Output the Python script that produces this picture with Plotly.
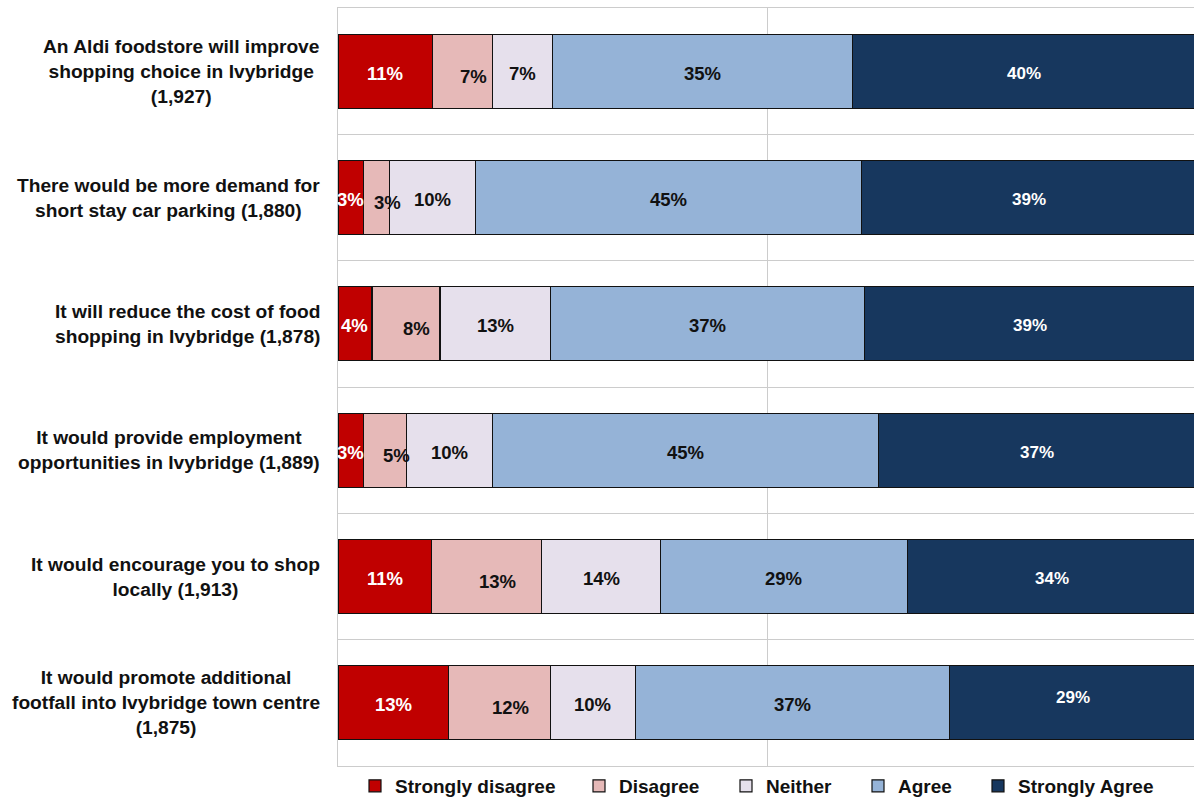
import plotly.graph_objects as go

# Survey statements (top to bottom) with response counts
statements = [
    "An Aldi foodstore will improve<br>shopping choice in Ivybridge<br>(1,927)",
    "There would be more demand for<br>short stay car parking (1,880)",
    "It will reduce the cost of food<br>shopping in Ivybridge (1,878)",
    "It would provide employment<br>opportunities in Ivybridge (1,889)",
    "It would encourage you to shop<br>locally (1,913)",
    "It would promote additional<br>footfall into Ivybridge town centre<br>(1,875)",
]

response_levels = ["Strongly disagree", "Disagree", "Neither", "Agree", "Strongly Agree"]

# Percentage of respondents per level (rounded, as labelled)
strongly_disagree = [11, 3, 4, 3, 11, 13]
disagree = [7, 3, 8, 5, 13, 12]
neither = [7, 10, 13, 10, 14, 10]
agree = [35, 45, 37, 45, 29, 37]
strongly_agree = [40, 39, 39, 37, 34, 29]

series = [strongly_disagree, disagree, neither, agree, strongly_agree]
fills = ["#C00000", "#E6B9B8", "#E6E0EC", "#95B3D7", "#17375E"]
label_colors = ["white", "#111111", "#111111", "#111111", "white"]

FONT = "Liberation Sans, Arial, sans-serif"
W, H = 1194, 798
M_L, M_R, M_T, M_B = 338, 0, 8, 32
plot_w = W - M_L - M_R

fig = go.Figure()

legend_text_px = [395, 619, 766, 898, 1018]
for i, (name, vals, col) in enumerate(zip(response_levels, series, fills)):
    fig.add_trace(go.Bar(
        y=statements,
        x=vals,
        name=name,
        orientation="h",
        marker=dict(color=col, line=dict(color="#111111", width=1.2)),
        textposition="none",
        hoverinfo="name+x",
        legend="legend" if i == 0 else f"legend{i + 1}",
    ))

# Segment value labels, placed at the middle of each normalised segment
annotations = []
for r, stmt in enumerate(statements):
    total = sum(s[r] for s in series)
    cum = 0
    for k, s in enumerate(series):
        v = s[r]
        mid = (cum + v / 2) / total * 100
        cum += v
        xshift, yshift = 0, -2
        if k == 1:
            xshift, yshift = 11, -5
        if k == 4 and r == len(statements) - 1:
            yshift = 5
        annotations.append(dict(
            x=mid, y=stmt, xref="x", yref="y",
            text=f"{v}%", showarrow=False,
            xshift=xshift, yshift=yshift,
            font=dict(family=FONT, size=17 if k == 4 else 18.5, color=label_colors[k], weight="bold"),
        ))

# Statement labels, centred text block right-aligned to the axis
for stmt in statements:
    annotations.append(dict(
        x=0, y=stmt, xref="paper", yref="y",
        xanchor="right", yanchor="middle", xshift=-16,
        text=stmt, align="center", showarrow=False,
        font=dict(family=FONT, size=19.2, color="#111111", weight="bold"),
    ))

layout_legends = {}
for i, tx in enumerate(legend_text_px):
    key = "legend" if i == 0 else f"legend{i + 1}"
    layout_legends[key] = dict(
        x=(tx - 40) / W, xref="container",
        y=(H - 786) / H, yref="container",
        xanchor="left", yanchor="middle",
        orientation="h",
        bgcolor="rgba(0,0,0,0)", borderwidth=0,
        font=dict(family=FONT, size=19, color="#111111", weight="bold"),
        itemclick=False, itemdoubleclick=False,
    )

grid = "#CCCCCC"
fig.update_layout(
    width=W, height=H,
    margin=dict(l=M_L, r=M_R, t=M_T, b=M_B, pad=0, autoexpand=False),
    barmode="stack", barnorm="percent", bargap=0.414,
    plot_bgcolor="white", paper_bgcolor="white",
    showlegend=True,
    annotations=annotations,
    xaxis=dict(
        range=[0, 100 * plot_w / 858], dtick=50, tick0=0,
        showgrid=True, gridcolor=grid, gridwidth=1,
        zeroline=False, showticklabels=False, ticks="",
        showline=True, mirror=True, linecolor=grid, linewidth=1,
        fixedrange=True,
    ),
    yaxis=dict(
        type="category", categoryorder="array", categoryarray=statements,
        autorange="reversed", tickson="boundaries",
        showgrid=True, gridcolor=grid, gridwidth=1,
        showticklabels=False, ticks="",
        showline=True, linecolor=grid, linewidth=1,
        fixedrange=True,
    ),
    **layout_legends,
)

fig.write_html("out.html")
